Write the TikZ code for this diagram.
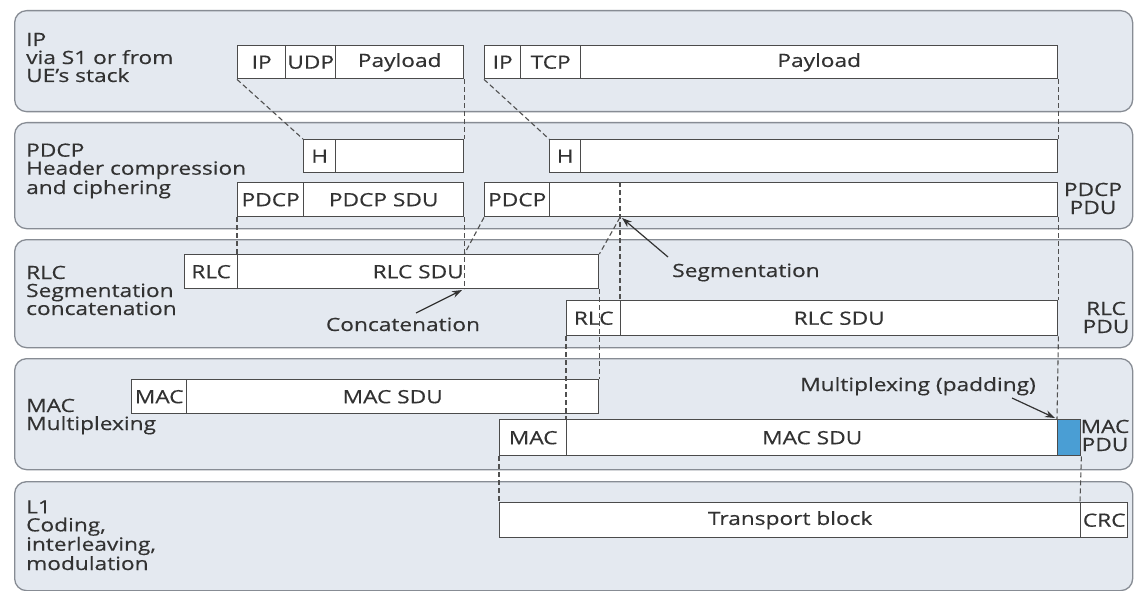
\documentclass[tikz,border=0pt]{standalone}
\usepackage{fontspec}
\setmainfont{Open Sans}[FakeStretch=1.24, FakeBold=0.4]
\usetikzlibrary{arrows.meta}
\definecolor{panelfill}{RGB}{228,233,240}
\definecolor{panelline}{RGB}{135,140,148}
\definecolor{boxline}{RGB}{75,75,75}
\definecolor{textc}{RGB}{50,50,50}
\definecolor{connc}{RGB}{80,80,80}
\definecolor{padblue}{RGB}{74,158,212}
\newcommand\labfont{\fontsize{18.3}{18}\selectfont}
\newcommand\boxfont{\fontsize{18.3}{18}\selectfont}
\begin{document}
\begin{tikzpicture}[x=1pt,y=-1pt,
  panel/.style={draw=panelline, line width=1.3, fill=panelfill, rounded corners=12, inner sep=0, anchor=north west, minimum width=1118},
  cell/.style={draw=boxline, line width=1.4, fill=white, inner sep=0, anchor=north west, font=\boxfont, text=textc},
  lbl/.style={align=left, font=\labfont, text=textc, inner sep=0, anchor=base west},
  rlbl/.style={align=center, font=\labfont, text=textc, inner sep=0, anchor=base},
  note/.style={font=\labfont, text=textc, inner sep=0, anchor=base},
  conn/.style={draw=connc, dash pattern=on 5pt off 3pt, line width=1.1},
  arr/.style={draw=black!80, line width=1.2, -{Stealth[length=10pt,width=7pt]}}]
\useasboundingbox (0,0) rectangle (1134,591);
\fill[white] (0,0) rectangle (1134,591);

% panels
\node[panel, minimum height=101] (pIP) at (14,10) {};
\node[panel, minimum height=106] (pPD) at (14,122) {};
\node[panel, minimum height=108] (pRL) at (14,239) {};
\node[panel, minimum height=111] (pMA) at (14,358) {};
\node[panel, minimum height=109] (pL1) at (14,481) {};

% layer labels (anchor = baseline of the last line)
\node[lbl] (tIP) at (26,82) {IP\\via S1 or from\\UE’s stack};
\node[lbl] (tPD) at (26,194) {PDCP\\Header compression\\and ciphering};
\node[lbl] (tRL) at (26,315) {RLC\\Segmentation\\concatenation};
\node[lbl] (tMA) at (26,430) {MAC\\Multiplexing};
\node[lbl] (tL1) at (26,570) {L1\\Coding,\\interleaving,\\modulation};

% IP row
\node[cell, minimum width=48, minimum height=33] (ip1) at (237,45) {IP};
\node[cell, minimum width=50, minimum height=33] (udp) at (285,45) {UDP};
\node[cell, minimum width=128, minimum height=33] (pay1) at (335,45) {Payload};
\node[cell, minimum width=36, minimum height=33] (ip2) at (484,45) {IP};
\node[cell, minimum width=60, minimum height=33] (tcp) at (520,45) {TCP};
\node[cell, minimum width=477, minimum height=33] (pay2) at (580,45) {Payload};

% H row
\node[cell, minimum width=32, minimum height=33] (h1) at (303,139) {H};
\node[cell, minimum width=128, minimum height=33] (h1b) at (335,139) {};
\node[cell, minimum width=31, minimum height=33] (h2) at (549,139) {H};
\node[cell, minimum width=477, minimum height=33] (h2b) at (580,139) {};

% PDCP row
\node[cell, minimum width=66, minimum height=34] (pd1) at (237,182) {PDCP};
\node[cell, minimum width=160, minimum height=34] (pdsdu) at (303,182) {PDCP SDU};
\node[cell, minimum width=65, minimum height=34] (pd2) at (484,182) {PDCP};
\node[cell, minimum width=508, minimum height=34] (pd2b) at (549,182) {};
\node[rlbl] (pdpdu) at (1093,214) {PDCP\\PDU};

% RLC rows
\node[cell, minimum width=53, minimum height=34] (rlc1) at (184,254) {RLC};
\node[cell, minimum width=361, minimum height=34] (rlcsdu1) at (237,254) {RLC SDU};
\node[cell, minimum width=54, minimum height=35] (rlc2) at (566,300) {RLC};
\node[cell, minimum width=437, minimum height=35] (rlcsdu2) at (620,300) {RLC SDU};
\node[rlbl] (rlpdu) at (1106,333) {RLC\\PDU};

% MAC rows
\node[cell, minimum width=55, minimum height=34] (mac1) at (131,379) {MAC};
\node[cell, minimum width=412, minimum height=34] (macsdu1) at (186,379) {MAC SDU};
\node[cell, minimum width=67, minimum height=36] (mac2) at (499,419) {MAC};
\node[cell, minimum width=491, minimum height=36] (macsdu2) at (566,419) {MAC SDU};
\node[cell, fill=padblue, minimum width=23, minimum height=36] (pad) at (1057,419) {};
\node[rlbl] (mapdu) at (1105,451) {MAC\\PDU};

% L1 row
\node[cell, minimum width=581, minimum height=35] (tb) at (499,502) {Transport block};
\node[cell, minimum width=47, minimum height=35] (crc) at (1080,502) {CRC};

% dashed mapping lines
\draw[conn] (ip1.south west) -- (h1.north west);
\draw[conn] (pay1.south east) -- (h1b.north east);
\draw[conn] (ip2.south west) -- (h2.north west);
\draw[conn] (pay2.south east) -- (h2b.north east);
\draw[conn] (pd1.south west) -- (rlcsdu1.north west);
\draw[conn] (pdsdu.south east) -- (pdsdu.south east |- rlcsdu1.south);
\draw[conn] (pd2.south west) -- (pdsdu.south east |- rlcsdu1.north);
\draw[conn] (rlcsdu2.north west |- pd2b.north) -- (rlcsdu2.north west);
\draw[conn] (rlcsdu2.north west |- pd2b.south) -- (rlcsdu1.north east);
\draw[conn] (pd2b.south east) -- (rlcsdu2.north east);
\draw[conn] (rlcsdu1.south east) -- (macsdu1.north east);
\draw[conn] (rlc2.south west) -- (macsdu2.north west);
\draw[conn] (rlcsdu2.south east) -- (pad.north west);
\draw[conn] (mac2.south west) -- (tb.north west);
\draw[conn] (pad.south east) -- (crc.north west);

% annotations
\node[note] (concat) at (403,331) {Concatenation};
\node[note] (segm) at (746,277) {Segmentation};
\node[note] (mux) at (918,391) {Multiplexing (padding)};
\coordinate (catail) at (416,313);
\coordinate (catip) at (462,290);
\coordinate (segtail) at (668,257);
\coordinate (segtip) at (622,218);
\coordinate (muxtail) at (1012,398);
\coordinate (muxtip) at (1055,418);
\draw[arr] (catail) -- (catip);
\draw[arr] (segtail) -- (segtip);
\draw[arr] (muxtail) -- (muxtip);
\end{tikzpicture}
\end{document}
